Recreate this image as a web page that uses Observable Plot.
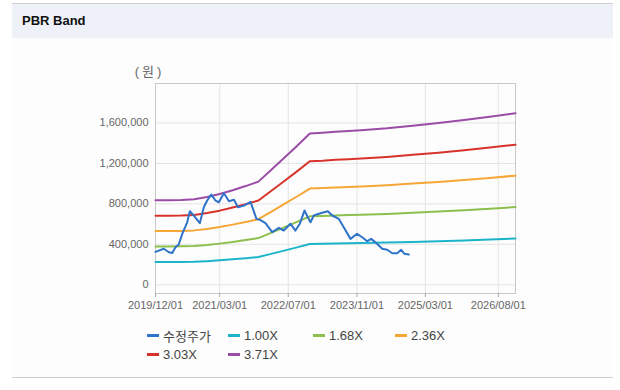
<!DOCTYPE html>
<html>
<head>
<meta charset="utf-8">
<script src="https://cdn.jsdelivr.net/npm/d3@7"></script>
<script src="https://cdn.jsdelivr.net/npm/@observablehq/plot@0.6"></script>
<style>
  html, body { margin: 0; padding: 0; background: #ffffff; }
  body { width: 620px; height: 390px; position: relative; overflow: hidden;
         font-family: "Liberation Sans", Arial, "Noto Sans CJK KR", sans-serif; }
  #box { position: absolute; left: 12px; top: 3px; width: 601px; height: 373px;
         border-top: 1px solid #cfcfcf; border-bottom: 1px solid #cfcfcf; background: #fdfdfd; }
  #head { position: absolute; left: 12px; top: 4px; width: 601px; height: 34px; background: #eef2f8; }
  #title { position: absolute; left: 22px; top: 13px; font-size: 13px; line-height: 16px;
           font-weight: bold; color: #111; }
  #chart { position: absolute; left: 0; top: 40px; }
  #legend { position: absolute; left: 147px; top: 327px; display: grid;
            grid-template-columns: 81px 85px 82px 80px; row-gap: 2px; }
  .item { display: flex; align-items: center; height: 17px; font-size: 13px; color: #444; white-space: nowrap; }
  .mk { display: inline-block; width: 12px; height: 3px; margin-right: 4px; }
</style>
</head>
<body>
<div id="box"></div>
<div id="head"></div>
<div id="title">PBR Band</div>
<div id="chart"></div>
<div id="legend"></div>
<script>
// ---- data ----
const seriesNames = ["수정주가", "1.00X", "1.68X", "2.36X", "3.03X", "3.71X"];
const seriesColors = ["#2f74c9", "#1cb4c9", "#8dbf4c", "#f6a636", "#d7332b", "#9a4ca6"];

const bandDates = ["2019-12-01","2020-03-01","2020-06-01","2020-09-01","2020-12-01","2021-03-01",
  "2021-06-01","2021-09-01","2021-12-01","2022-03-01","2022-06-01","2022-09-01","2022-12-01",
  "2023-03-01","2023-06-01","2023-09-01","2023-12-01","2024-06-01","2024-12-01","2025-06-01",
  "2025-12-01","2026-06-01","2026-12-01"];
const band100 = [225000,225000,226000,228000,234000,242000,252000,263000,275000,306000,338000,370000,403000,405000,408000,410000,412000,417000,424000,431000,439000,448000,457000];
const band168 = [378000,378000,380000,383000,393000,407000,423000,442000,462000,514000,568000,622000,677000,680000,685000,689000,692000,701000,712000,724000,738000,753000,768000];
const band236 = [531000,531000,533000,538000,552000,571000,595000,621000,649000,722000,798000,873000,951000,956000,963000,968000,972000,984000,1001000,1017000,1036000,1057000,1079000];
const band303 = [682000,682000,685000,691000,709000,733000,764000,797000,833000,927000,1024000,1121000,1221000,1227000,1236000,1242000,1248000,1264000,1285000,1306000,1330000,1357000,1385000];
const band371 = [835000,835000,838000,846000,868000,898000,935000,976000,1020000,1135000,1254000,1373000,1495000,1503000,1514000,1521000,1529000,1547000,1573000,1599000,1629000,1662000,1695000];

const priceDates = ["2019-12-01","2020-01-29","2020-03-05","2020-03-29","2020-04-21","2020-05-14",
  "2020-06-08","2020-07-13","2020-08-01","2020-08-29","2020-10-11","2020-11-08","2020-12-02",
  "2020-12-31","2021-01-30","2021-02-23","2021-03-31","2021-05-06","2021-06-10","2021-07-09",
  "2021-08-20","2021-10-06","2021-11-17","2021-12-16","2022-01-20","2022-03-09","2022-04-25",
  "2022-05-30","2022-07-17","2022-08-21","2022-09-21","2022-10-24","2022-11-17","2022-12-06",
  "2022-12-29","2023-02-15","2023-04-08","2023-05-09","2023-06-25","2023-07-30","2023-09-16",
  "2023-11-02","2023-12-08","2024-01-13","2024-02-10","2024-03-19","2024-04-28","2024-06-03",
  "2024-07-08","2024-08-13","2024-09-10","2024-10-03","2024-11-03"];
const priceValues = [325000,356000,322000,314000,371000,398000,504000,618000,727000,685000,609000,
  767000,833000,892000,833000,816000,905000,826000,840000,767000,783000,820000,652000,640000,
  609000,520000,563000,536000,603000,536000,603000,734000,668000,618000,685000,707000,727000,
  685000,652000,569000,454000,504000,470000,431000,454000,411000,356000,346000,312000,312000,
  346000,306000,299000];

const xTickLabels = ["2019/12/01","2021/03/01","2022/07/01","2023/11/01","2025/03/01","2026/08/01"];
const yTickValues = [0, 400000, 800000, 1200000, 1600000];
const xDomain = ["2019-12-01", "2026-12-01"];
const yDomain = [-86000, 1990000];
const yUnitLabel = "(원)";

// ---- build ----
const parse = d3.utcParse("%Y-%m-%d");
const parseTick = d3.utcParse("%Y/%m/%d");
const xTicks = xTickLabels.map(parseTick);
const bandArrays = [band100, band168, band236, band303, band371];
const rows = [];
priceDates.forEach((d, i) => rows.push({date: parse(d), value: priceValues[i], series: seriesNames[0]}));
bandArrays.forEach((arr, k) => bandDates.forEach((d, i) => rows.push({date: parse(d), value: arr[i], series: seriesNames[k + 1]})));

const drawOrder = [5, 4, 3, 2, 1, 0];
const font = '"Liberation Sans", Arial, "Noto Sans CJK KR", sans-serif';

const chart = Plot.plot({
  width: 620,
  height: 280,
  marginLeft: 155,
  marginRight: 105,
  marginTop: 43,
  marginBottom: 27,
  style: {fontFamily: font, fontSize: "11px", background: "transparent", overflow: "visible"},
  x: {type: "utc", domain: xDomain.map(parse)},
  y: {domain: yDomain},
  color: {domain: seriesNames, range: seriesColors},
  marks: [
    Plot.gridY(yTickValues, {stroke: "#e4e4e4", strokeOpacity: 1}),
    Plot.gridX(xTicks, {stroke: "#e4e4e4", strokeOpacity: 1}),
    Plot.frame({stroke: "#c8c8c8"}),
    Plot.axisY(yTickValues, {tickSize: 0, tickPadding: 7, tickFormat: d3.format(","), fill: "#666", label: null}),
    Plot.axisX(xTicks, {tickSize: 4, tickPadding: 4, tickFormat: d3.utcFormat("%Y/%m/%d"), fill: "#666", stroke: "#aaa", label: null}),
    ...drawOrder.map(k => Plot.line(rows.filter(r => r.series === seriesNames[k]),
      {x: "date", y: "value", stroke: seriesColors[k], strokeWidth: 2})),
    Plot.text([yUnitLabel], {frameAnchor: "top-left", lineAnchor: "middle", dx: -6, dy: -12,
      text: d => d, fill: "#666", fontSize: 13, textAnchor: "middle"})
  ]
});
d3.select(chart).selectAll("text").filter(function() { return this.textContent === yUnitLabel; })
  .attr("letter-spacing", "3px");
document.getElementById("chart").appendChild(chart);

// legend
const legend = d3.select("#legend");
seriesNames.forEach((name, i) => {
  const it = legend.append("div").attr("class", "item");
  it.append("span").attr("class", "mk").style("background", seriesColors[i]);
  it.append("span").text(name);
});
</script>
</body>
</html>
